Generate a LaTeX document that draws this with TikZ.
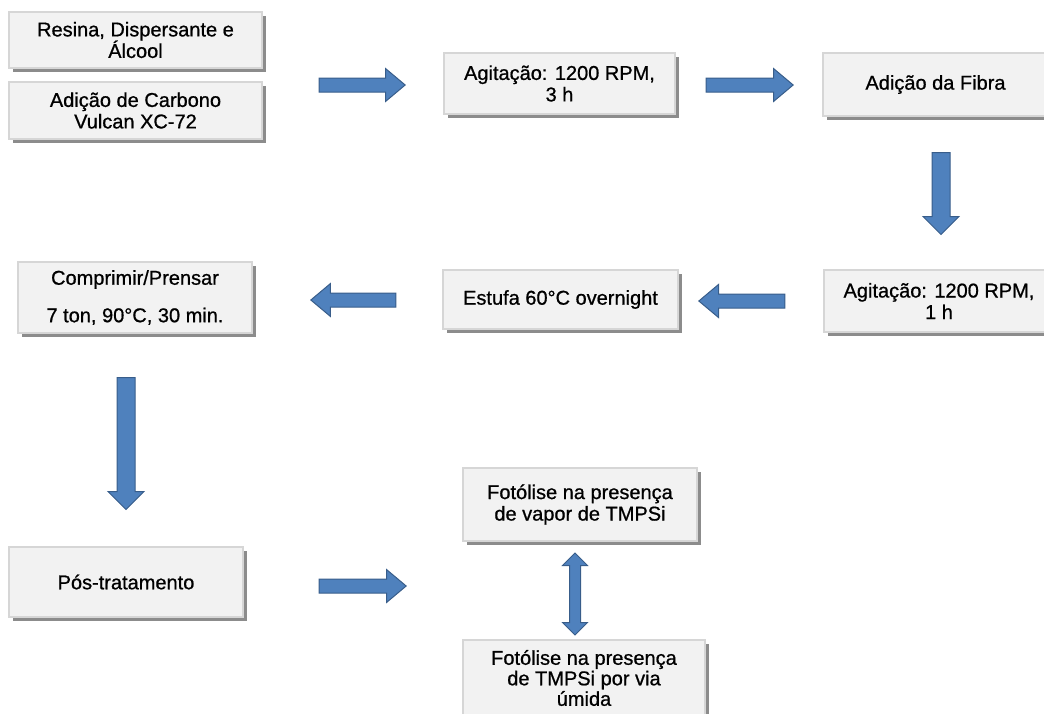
\documentclass[tikz,border=0pt]{standalone}
\usepackage{fontspec}
\setmainfont{Liberation Sans}[FakeBold=0.8]
\usetikzlibrary{shapes.arrows,shadows}
\definecolor{arrowfill}{HTML}{4F81BD}
\definecolor{arrowline}{HTML}{385D8A}
\begin{document}
\begin{tikzpicture}[x=1pt,y=-1pt,
    box/.style={draw=black!16, line width=2.5pt, fill=black!5, align=center,
      inner sep=0pt, font=\fontsize{20}{21.5}\selectfont,
      drop shadow={shadow xshift=4pt, shadow yshift=-4pt, fill=black!45, opacity=1}},
    fat/.style={sloped, allow upside down, draw=arrowline, fill=arrowfill,
      line width=1pt, inner xsep=0pt},
    flow/.style={to path={-- node[fat, single arrow, inner ysep=6.5pt,
      single arrow head extend=9.5pt, single arrow tip angle=80,
      minimum height=#1] {} (\tikztotarget)}},
    drop/.style={to path={-- node[fat, single arrow, inner ysep=8.5pt,
      single arrow head extend=9pt, single arrow tip angle=90,
      minimum height=#1] {} (\tikztotarget)}},
    both/.style={to path={-- node[fat, double arrow, inner ysep=5pt,
      double arrow head extend=7pt, double arrow tip angle=90,
      minimum height=#1] {} (\tikztotarget)}}]
  \useasboundingbox (0,0) rectangle (1044,713);
  \path
    (135.5,40) node[box, minimum width=253pt, minimum height=56pt] (resina)
      {Resina, Dispersante e\\Álcool}
    (135.5,110.5) node[box, minimum width=253pt, minimum height=57pt] (carbono)
      {Adição de Carbono\\Vulcan XC-72}
    (559.5,83.5) node[box, minimum width=231pt, minimum height=61pt] (agit3)
      {Agitação: 1200 RPM,\\3 h}
    (935.5,84.5) node[box, minimum width=225pt, minimum height=63pt] (fibra)
      {Adição da Fibra}
    (939,301) node[box, minimum width=230pt, minimum height=62pt] (agit1)
      {Agitação: 1200 RPM,\\1 h}
    (560.5,299.5) node[box, minimum width=235pt, minimum height=59pt] (estufa)
      {Estufa 60°C overnight}
    (135,297.5) node[box, minimum width=234pt, minimum height=71pt] (prensa)
      {Comprimir/Prensar\\[16pt]7 ton, 90°C, 30 min.}
    (126,582) node[box, minimum width=234pt, minimum height=70pt] (pos)
      {Pós-tratamento}
    (580,504.5) node[box, minimum width=234pt, minimum height=73pt] (vapor)
      {Fotólise na presença\\de vapor de TMPSi}
    (584,678) node[box, minimum width=242pt, minimum height=76pt,
      font=\fontsize{20}{20.5}\selectfont] (umida)
      {Fotólise na presença\\de TMPSi por via\\úmida};
  % ends of the block arrows
  \coordinate (r1a) at (315,85);    \coordinate (r1b) at (401,85);
  \coordinate (r2a) at (702,85);    \coordinate (r2b) at (789,85);
  \coordinate (d1a) at (941,148);   \coordinate (d1b) at (941,230);
  \coordinate (l1a) at (789,301);   \coordinate (l1b) at (703,301);
  \coordinate (l2a) at (400,300);   \coordinate (l2b) at (315,300);
  \coordinate (d2a) at (126,373);   \coordinate (d2b) at (126,505);
  \coordinate (r3a) at (315,586);   \coordinate (r3b) at (402,586);
  \coordinate (v1a) at (575,553);   \coordinate (v1b) at (575,635);
  \begin{scope}
    \path (r1a) to[flow=86pt] (r1b);
    \path (r2a) to[flow=87pt] (r2b);
    \path (d1a) to[drop=82pt] (d1b);
    \path (l1a) to[flow=86pt] (l1b);
    \path (l2a) to[flow=85pt] (l2b);
    \path (d2a) to[drop=132pt] (d2b);
    \path (r3a) to[flow=87pt] (r3b);
    \path (v1a) to[both=82pt] (v1b);
  \end{scope}
\end{tikzpicture}
\end{document}
